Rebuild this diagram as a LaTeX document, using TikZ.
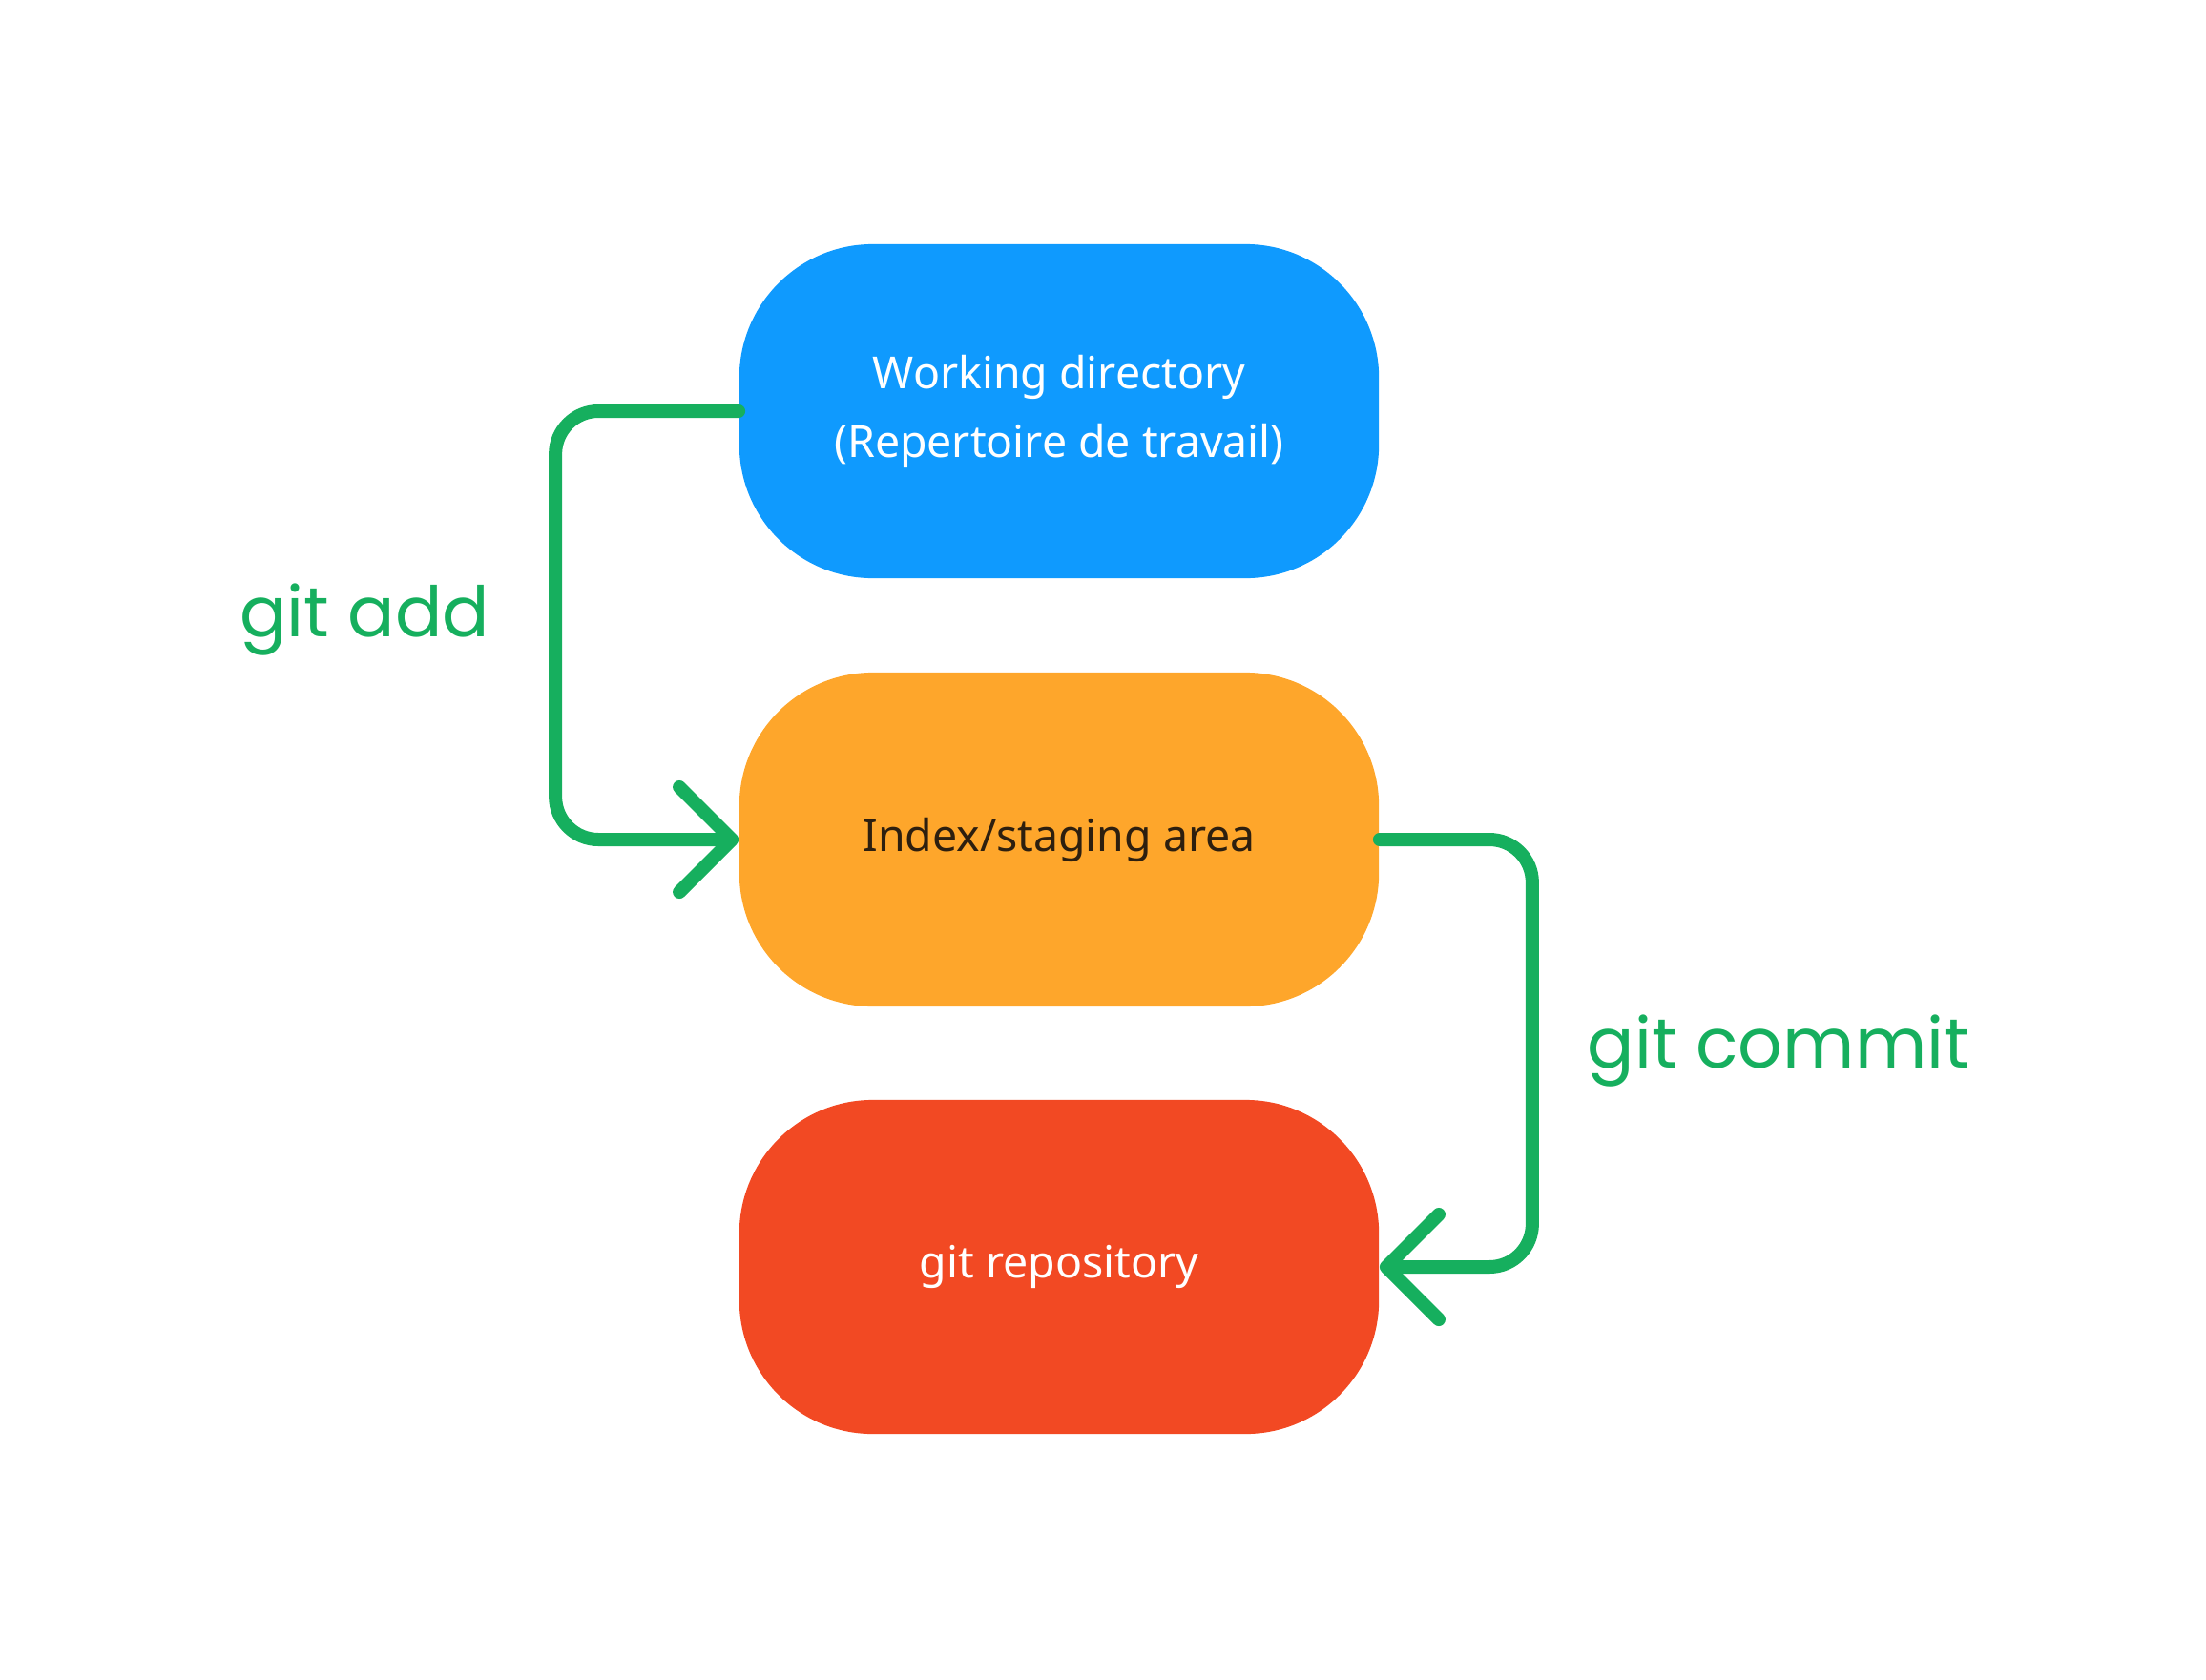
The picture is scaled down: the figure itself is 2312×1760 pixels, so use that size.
\documentclass[tikz,border=0pt]{standalone}
\usepackage{fontspec}
\setmainfont{Noto Sans}
\newfontfamily\cmdfont{Poppins}
\usetikzlibrary{arrows.meta}
\definecolor{workblue}{HTML}{0F9AFE}
\definecolor{indexorange}{HTML}{FEA62B}
\definecolor{repored}{HTML}{F24923}
\definecolor{flowgreen}{HTML}{16AF5E}
\definecolor{indextext}{HTML}{2D1F0F}
\begin{document}
\begin{tikzpicture}[x=0.01cm,y=-0.01cm,
    stage/.style={rectangle,rounded corners=1.4cm,minimum width=6.7cm,minimum height=3.5cm,
      align=center,font=\fontsize{13.2}{20.5}\selectfont},
    flow/.style={draw=flowgreen,line width=0.14cm,line cap=round,line join=round,rounded corners=0.45cm,
      -{Straight Barb[length=0.55cm,width=1.1cm,line cap=round,line join=round]}},
    cmd/.style={text=flowgreen,font=\cmdfont\fontsize{20.8}{26}\selectfont}]
   \useasboundingbox (0,0) rectangle (2312,1760);
   \node[stage,fill=workblue,text=white] (work) at (1110,431) {Working directory\\(Repertoire de travail)};
   \node[stage,fill=indexorange,text=indextext] (index) at (1110,880) {Index/staging area};
   \node[stage,fill=repored,text=white] (repo) at (1110,1328) {git repository};
   \draw[flow] (work.west) -- ++(-192,0) |- (index.west);
   \draw[flow] (index.east) -- ++(160,0) |- (repo.east);
   \node[cmd] (add) at (382,650) {git add};
   \node[cmd] (commit) at (1864,1102) {git commit};
  \end{tikzpicture}
\end{document}
